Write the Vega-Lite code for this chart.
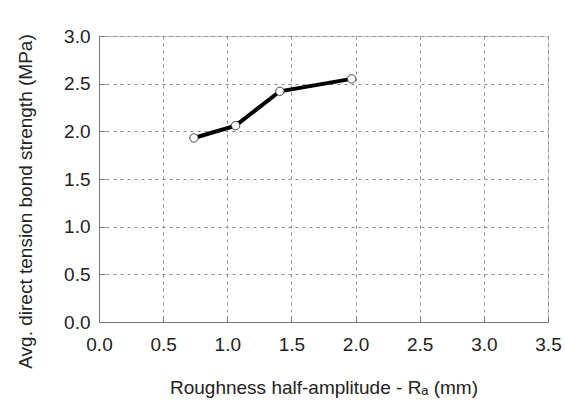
{
  "$schema": "https://vega.github.io/schema/vega-lite/v6.json",
  "width": 449,
  "height": 286,
  "autosize": "none",
  "padding": {"left": 99, "top": 36, "right": 17, "bottom": 80},
  "background": "white",
  "config": {
    "view": {"stroke": "#cccccc", "strokeWidth": 1},
    "font": "Liberation Sans",
    "axis": {
      "labelFont": "Liberation Sans",
      "titleFont": "Liberation Sans",
      "labelFontSize": 19,
      "titleFontSize": 19,
      "labelColor": "#222222",
      "titleColor": "#222222",
      "titleFontWeight": "normal",
      "labelFlush": false,
      "grid": true,
      "gridColor": "#8a8a8a",
      "gridDash": [3, 4],
      "gridWidth": 1,
      "domainColor": "#777777",
      "tickColor": "#777777",
      "tickSize": -6
    }
  },
  "data": {
    "values": [
      {"r": 0.74, "s": 1.93},
      {"r": 1.065, "s": 2.06},
      {"r": 1.41, "s": 2.42},
      {"r": 1.97, "s": 2.55}
    ]
  },
  "encoding": {
    "x": {
      "field": "r",
      "type": "quantitative",
      "scale": {"domain": [0, 3.5], "nice": false},
      "axis": {"values": [0, 0.5, 1, 1.5, 2, 2.5, 3, 3.5], "format": ".1f", "title": "Roughness half-amplitude - Rₐ (mm)", "labelPadding": 19, "titlePadding": 24}
    },
    "y": {
      "field": "s",
      "type": "quantitative",
      "scale": {"domain": [0, 3], "nice": false},
      "axis": {"values": [0, 0.5, 1, 1.5, 2, 2.5, 3], "format": ".1f", "title": "Avg. direct tension bond strength (MPa)", "labelPadding": 15, "titlePadding": 28, "titleY": 165}
    }
  },
  "layer": [
    {"mark": {"type": "line", "color": "black", "strokeWidth": 4}},
    {"mark": {"type": "point", "filled": true, "fill": "white", "stroke": "#444444", "strokeWidth": 1, "size": 70, "opacity": 1}}
  ]
}
